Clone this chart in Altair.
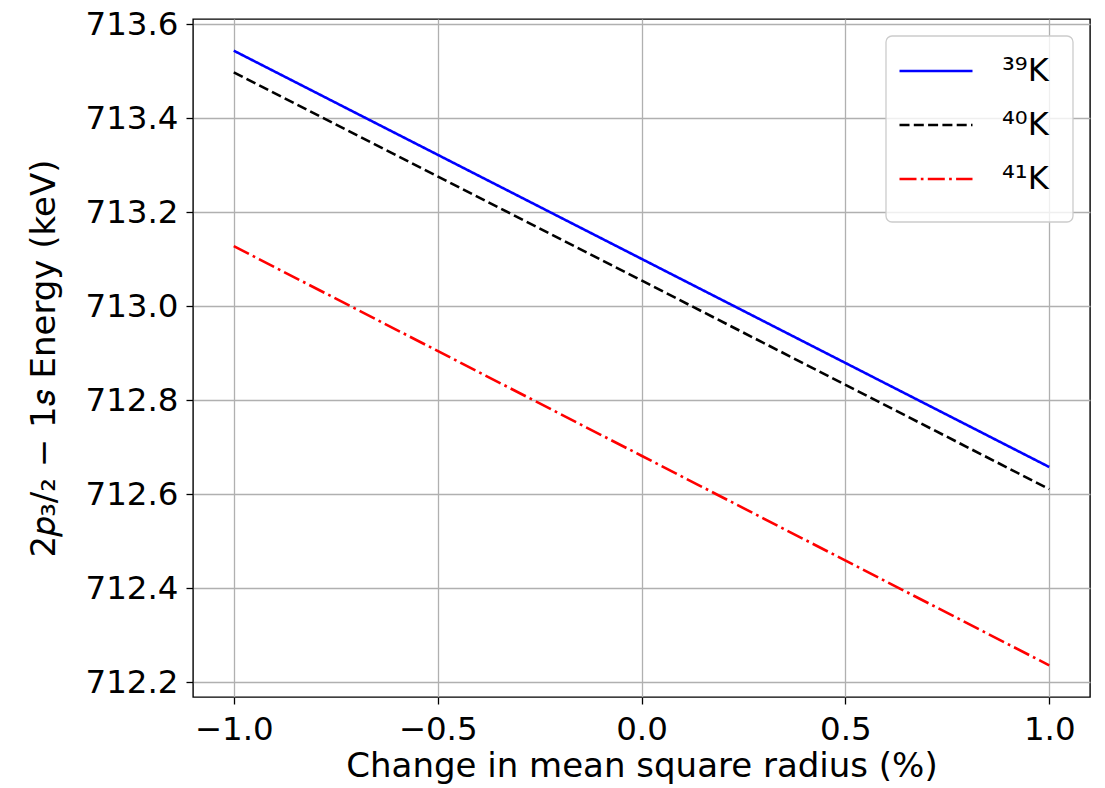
import altair as alt
import pandas as pd

x_vals = [-1.0, 0.0, 1.0]
k39 = [713.544, 713.101, 712.658]
k40 = [713.498, 713.055, 712.611]
k41 = [713.128, 712.682, 712.236]
isotopes = ["³⁹K", "⁴⁰K", "⁴¹K"]
colors = ["#0000ff", "#000000", "#ff0000"]
dashes = [[1, 0], [10, 4.3], [17, 4.3, 2.7, 4.3]]
x_ticks = [-1.0, -0.5, 0.0, 0.5, 1.0]
y_ticks = [712.2, 712.4, 712.6, 712.8, 713.0, 713.2, 713.4, 713.6]

rows = []
for name, ys in zip(isotopes, [k39, k40, k41]):
    for xv, yv in zip(x_vals, ys):
        rows.append({"x": xv, "y": yv, "iso": name})
df = pd.DataFrame(rows)

FONT = "DejaVu Sans"

lines = alt.Chart(df).mark_line(strokeWidth=2.6, clip=True).encode(
    x=alt.X("x:Q",
            scale=alt.Scale(domain=[-1.1, 1.1], nice=False, zero=False),
            axis=alt.Axis(values=x_ticks, title="Change in mean square radius (%)",
                          labelPadding=9, titlePadding=4,
                          labelExpr="replace(format(datum.value, '.1f'), '-', '−')")),
    y=alt.Y("y:Q",
            scale=alt.Scale(domain=[712.1686, 713.6114], nice=False, zero=False),
            axis=alt.Axis(values=y_ticks, format=".1f", labelPadding=8, titlePadding=23,
                          title="2𝑝₃/₂ − 1𝑠 Energy (keV)")),
    color=alt.Color("iso:N", scale=alt.Scale(domain=isotopes, range=colors), title=None),
    strokeDash=alt.StrokeDash("iso:N", scale=alt.Scale(domain=isotopes, range=dashes), title=None),
)

box = alt.Chart(pd.DataFrame({"a": [0]})).mark_rect(
    fill="white", fillOpacity=0.8, stroke="#cccccc", strokeWidth=1.3, cornerRadius=6
).encode(
    x=alt.value(693), x2=alt.value(880), y=alt.value(17), y2=alt.value(203)
)

chart = alt.layer(lines, box).properties(
    width=897, height=678,
    autosize=alt.AutoSizeParams(type="none"),
    padding={"left": 193, "top": 19, "right": 15, "bottom": 91},
).configure_view(
    stroke="black", strokeWidth=1.4
).configure_axis(
    labelFont=FONT, titleFont=FONT, labelFontSize=32.5, titleFontSize=34,
    labelColor="black", titleColor="black", titleFontWeight="normal",
    grid=True, gridColor="#b0b0b0", gridWidth=1.3,
    domain=False, tickColor="black", tickSize=7, tickWidth=1.3,
).configure_legend(
    orient="none", legendX=705, legendY=14,
    symbolType="stroke", symbolSize=5329, symbolStrokeWidth=2.6,
    labelFont=FONT, labelFontSize=32, labelColor="black", labelLimit=200,
    padding=0, rowPadding=-9, labelOffset=28,
)

chart.save("out.html", embed_options={"renderer": "svg", "actions": False})
